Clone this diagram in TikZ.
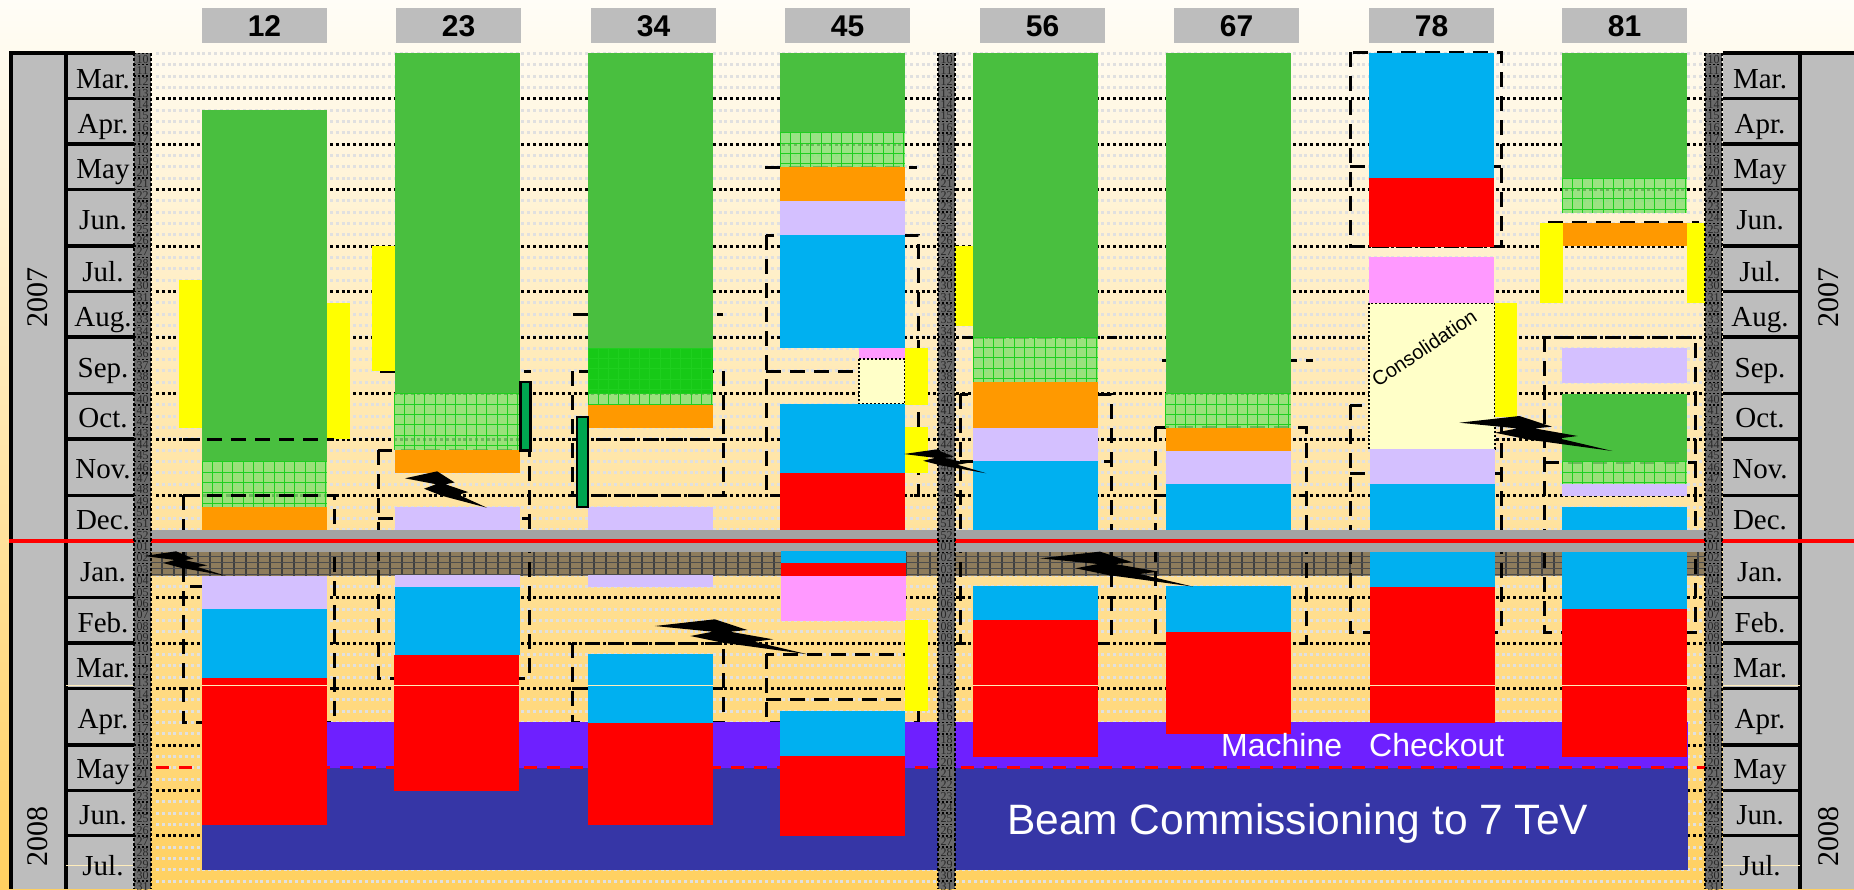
\documentclass[tikz,border=0pt]{standalone}
\usepackage{fontspec}
\setmainfont{Liberation Serif}
\newfontfamily\sansf{Liberation Sans}
\definecolor{barblue}{HTML}{00B0F0}
\definecolor{barred}{HTML}{FF0000}
\definecolor{bargreen}{HTML}{49BF3F}
\definecolor{barorange}{HTML}{FF9900}
\definecolor{barlav}{HTML}{D4C0FF}
\definecolor{barpink}{HTML}{FF99FF}
\definecolor{barcream}{HTML}{FFFFC8}
\definecolor{baryellow}{HTML}{FFFF00}
\definecolor{barpurple}{HTML}{6E20FF}
\definecolor{bardark}{HTML}{3636A6}
\definecolor{cellgray}{HTML}{BDBDBD}
\definecolor{bandgray}{HTML}{A3A3A3}
\definecolor{stripgray}{HTML}{6A6A6A}
\definecolor{meshgreen}{HTML}{84E070}
\definecolor{meshline}{HTML}{1FCF1F}
\definecolor{brightmesh}{HTML}{17C917}
\definecolor{hatchbrown}{HTML}{8E7C5C}
\definecolor{thinbar}{HTML}{00A650}
\definecolor{creamline}{HTML}{FFEDBB}
\tikzset{
  rl/.style={black,line width=3pt,dash pattern=on 15pt off 9pt,line join=miter},
  lightdots/.style={color=black!12,line width=3pt,dash pattern=on 3pt off 2.8pt},
  blackdots/.style={black,line width=3pt,dash pattern=on 3pt off 2.8pt},
  monthnm/.style={anchor=base,inner sep=0pt,font=\fontsize{29}{30}\selectfont},
  yearnm/.style={rotate=90,anchor=center,inner sep=0pt,font=\fontsize{30}{32}\selectfont},
  headbox/.style={fill=cellgray,draw=none,minimum height=35pt,inner sep=0pt,font=\sansf\bfseries\fontsize{30}{32}\selectfont},
  weeknm/.style={inner sep=0pt,text=black!85,font=\fontsize{12}{12}\selectfont},
  cell/.style={black,line width=3.2pt},
  creamrule/.style={creamline,line width=1pt}
}
\newcommand{\bxr}[5]{\fill[#5] (#1,#2) rectangle (#3,#4);}
\newcommand{\meshr}[4]{\begin{scope}\clip (#1,#2) rectangle (#3,#4);
  \fill[meshgreen,opacity=.82] (#1,#2) rectangle (#3,#4);
  \foreach \i in {0,...,12}{\draw[meshline,line width=.9pt] ({#1+\i*10.3},#2) -- ({#1+\i*10.3},#4);}
  \foreach \i in {0,...,6}{\draw[meshline,line width=.9pt] (#1,{#2+\i*10.4}) -- (#3,{#2+\i*10.4});}
  \end{scope}}
\newcommand{\boltr}[4]{\fill[black,shift={(#1,#2)},xscale=#3,yscale=#4]
  (0,0) -- (60,-6.7) -- (92.5,4) -- (75.2,5.7) -- (118.2,13.3) -- (99.6,15.7) -- (153,28.3) -- (68,16.7) -- (35.6,10) -- (58,5.7) -- cycle;}
\newcommand{\stripr}[1]{
  \fill[stripgray] (#1,53) rectangle ({#1+17},889);
  \foreach \n in {10,...,52}{\pgfmathsetmacro{\yy}{53.4+(\n-10)*11.34}
    \draw[black,line width=1.5pt,dash pattern=on 2pt off 2pt] (#1,\yy) -- ({#1+17},\yy);
    \node[weeknm] at ({#1+8.5},{\yy+5.7}) {\n};}
  \foreach \n/\m in {1/01,2/02,3/03,4/04,5/05,6/06,7/07,8/08,9/09,10/10,11/11,12/12,13/13,14/14,15/15,16/16,17/17,18/18,19/19,20/20,21/21,22/22,23/23,24/24,25/25,26/26,27/27,28/28,29/29,30/30,31/31}{\pgfmathsetmacro{\yy}{541+(\n-1)*11.34}
    \draw[black,line width=1.5pt,dash pattern=on 2pt off 2pt] (#1,\yy) -- ({#1+17},\yy);
    \node[weeknm] at ({#1+8.5},{\yy+5.7}) {\m};}
  \draw[black,line width=2.2pt,dash pattern=on 2.5pt off 2.5pt] (#1,53) -- (#1,889);
  \draw[black,line width=2.2pt,dash pattern=on 2.5pt off 2.5pt] ({#1+17},53) -- ({#1+17},889);
}
\begin{document}
\begin{tikzpicture}[x=1pt,y=-1pt]
\useasboundingbox (0,0) rectangle (1854,889);
\shade[top color=white!70!yellow!30!white,middle color=white!70!orange!30!white,bottom color=white,top color={rgb,255:red,255;green,253;blue,247},middle color={rgb,255:red,255;green,237;blue,208},bottom color={rgb,255:red,255;green,208;blue,96}] (0,0) rectangle (1854,889);
% week grid
\foreach \n in {0,...,74}{\pgfmathsetmacro{\yy}{53.4+\n*11.34}
  \draw[lightdots] (156,\yy) -- (1705,\yy);}
\foreach \yy in {98.7,144,189.3,246,291.3,337,393.7,439,495.3,597.7,643,688.3,745,790.3,835.7}{
  \draw[blackdots] (156,\yy) -- (1705,\yy);}
% hatched winter band
\fill[hatchbrown] (150,551.7) rectangle (1705,575.7);
\foreach \i in {0,...,129}{\draw[black!75,line width=1.1pt] ({150+\i*12},551.7) -- ({150+\i*12},575.7);}
\foreach \yy in {556,562,568,574}{\draw[black!70,line width=1pt] (150,\yy) -- (1705,\yy);}
% dashed work frames
\draw[rl] (183,495) rectangle (334,722);
\draw[rl] (190,586) -- (334,586);
\draw[rl] (378,450) rectangle (529,678);
\draw[rl] (378,518) -- (529,518);
\draw[rl] (380,371) -- (531,371);
\draw[rl] (572,371) rectangle (723,495);
\draw[rl] (572,439) -- (724,439);
\draw[rl] (573,314) -- (723,314);
\draw[rl] (572,643) rectangle (723,722);
\draw[rl] (572,688) -- (723,688);
\draw[rl] (765,167) -- (917,167);
\draw[rl] (766,235) rectangle (918,495);
\draw[rl] (766,371) -- (859,371);
\draw[rl] (766,654) rectangle (918,722);
\draw[rl] (766,699) -- (905,699);
\draw[rl] (960,394) rectangle (1111,643);
\draw[rl] (965,337) -- (1117,337);
\draw[rl] (960,461) -- (1112,461);
\draw[rl] (1155,427) rectangle (1306,643);
\draw[rl] (1155,495) -- (1306,495);
\draw[rl] (1162,360) -- (1313,360);
\draw[rl] (1350,52) rectangle (1501,246);
\draw[rl] (1350,166) -- (1501,166);
\draw[rl] (1350,405) rectangle (1501,632);
\draw[rl] (1350,473) -- (1503,473);
\draw[rl] (1548,222) -- (1699,222);
\draw[rl] (1544,337) rectangle (1695,632);
\draw[rl] (1544,462) -- (1697,462);
% machine checkout and beam commissioning
\fill[bandgray] (150,530) rectangle (1705,551.7);
\fill[barpurple] (202,722) rectangle (1688,767.7);
\fill[bardark] (202,767.7) rectangle (1688,870);
\draw[barred,line width=3pt,dash pattern=on 13pt off 10pt] (156,767.7) -- (1722,767.7);
% sector 12
\bxr{202}{110}{327}{461.7}{bargreen}
\meshr{202}{461.7}{327}{507}
\bxr{202}{507}{327}{530}{barorange}
\bxr{202}{575.7}{327}{609}{barlav}
\bxr{202}{609}{327}{677.7}{barblue}
\bxr{202}{677.7}{327}{825}{barred}
\bxr{179}{280}{202}{427.7}{baryellow}
\bxr{327}{303.3}{350}{439}{baryellow}
% sector 23
\bxr{395}{53}{520}{393.7}{bargreen}
\meshr{394}{393.7}{519}{450}
\bxr{395}{450}{520}{473}{barorange}
\bxr{395}{507}{520}{530}{barlav}
\bxr{395}{575}{520}{587}{barlav}
\bxr{395}{587}{520}{655}{barblue}
\bxr{394}{655}{519}{791}{barred}
\bxr{372}{246}{395}{371}{baryellow}
\draw[black,line width=2.5pt,fill=thinbar] (520.5,382) rectangle (530.5,450.5);
% sector 34
\bxr{588}{53}{713}{348}{bargreen}
\begin{scope}\clip (588,348) rectangle (713,393.7);
\fill[brightmesh] (588,348) rectangle (713,393.7);
\foreach \i in {0,...,12}{\draw[meshline,line width=.9pt] ({588+\i*10.3},348) -- ({588+\i*10.3},393.7);}
\foreach \i in {0,...,4}{\draw[meshline,line width=.9pt] (588,{348+\i*10.4}) -- (713,{348+\i*10.4});}
\end{scope}
\meshr{588}{393.7}{713}{405}
\bxr{588}{405}{713}{427.7}{barorange}
\bxr{588}{507}{713}{530}{barlav}
\bxr{588}{575}{713}{587}{barlav}
\bxr{588}{654}{713}{723}{barblue}
\bxr{588}{723}{713}{825}{barred}
\draw[black,line width=2.5pt,fill=thinbar] (577,417) rectangle (588,507);
% sector 45
\bxr{780}{53}{905}{132.7}{bargreen}
\meshr{780}{132.7}{905}{167}
\bxr{780}{167}{905}{201}{barorange}
\bxr{780}{201}{905}{235}{barlav}
\bxr{780}{235}{905}{348}{barblue}
\bxr{859}{348}{905}{359}{barpink}
\draw[barcream!100,fill=barcream,draw=black,line width=1.6pt,dash pattern=on 2pt off 2pt] (859,359) rectangle (905,404);
\bxr{780}{404}{905}{473}{barblue}
\bxr{780}{473}{905}{530}{barred}
\bxr{781}{551}{906}{563}{barblue}
\bxr{781}{563}{906}{575.7}{barred}
\bxr{781}{575.7}{906}{621}{barpink}
\bxr{780}{711}{905}{755.7}{barblue}
\bxr{780}{755.7}{905}{835.7}{barred}
\bxr{905}{348}{928}{405}{baryellow}
\bxr{905}{427}{928}{473}{baryellow}
\bxr{905}{620}{928}{711}{baryellow}
% sector 56
\bxr{955}{246}{977}{325.7}{baryellow}
\bxr{973}{53}{1098}{337}{bargreen}
\meshr{973}{337}{1098}{382}
\bxr{973}{382}{1098}{428}{barorange}
\bxr{973}{428}{1098}{461}{barlav}
\bxr{973}{461}{1098}{530}{barblue}
\bxr{973}{586}{1098}{620}{barblue}
\bxr{973}{620}{1098}{757}{barred}
% sector 78
\bxr{1369}{53}{1494}{178}{barblue}
\bxr{1369}{178}{1494}{247}{barred}
\bxr{1369}{257}{1494}{303.3}{barpink}
\draw[fill=barcream,draw=black,line width=1.6pt,dash pattern=on 2pt off 2pt] (1369,303.3) rectangle (1495,449.3);
\bxr{1370}{449.3}{1495}{484}{barlav}
\bxr{1370}{484}{1495}{530}{barblue}
\bxr{1370}{551.7}{1495}{587}{barblue}
\bxr{1370}{587}{1495}{723}{barred}
\bxr{1494.5}{303.3}{1517}{416.7}{baryellow}
% sector 81
\bxr{1562}{53}{1687}{178}{bargreen}
\meshr{1562}{178}{1687}{213}
\bxr{1563}{223}{1687}{246}{barorange}
\bxr{1540}{223}{1563}{303}{baryellow}
\bxr{1687}{223}{1705}{303}{baryellow}
\bxr{1562}{348}{1687}{383}{barlav}
\bxr{1562}{393.7}{1687}{461.7}{bargreen}
\meshr{1562}{461.7}{1687}{484}
\bxr{1562}{484}{1687}{495.7}{barlav}
\bxr{1562}{507}{1687}{530}{barblue}
\bxr{1562}{551.7}{1687}{609}{barblue}
\bxr{1562}{609}{1687}{757}{barred}
% thin cream rule across the bars
\foreach \a/\b in {66/150,202/327,394/519,588/713,973/1098,1370/1495,1562/1687,1723/1800}{\draw[creamrule] (\a,685.3) -- (\b,685.3);}
% sector 67 (drawn over the rule)
\bxr{1166}{53}{1291}{393.7}{bargreen}
\meshr{1165}{393.7}{1291}{428}
\bxr{1166}{428}{1291}{451}{barorange}
\bxr{1166}{451}{1291}{484}{barlav}
\bxr{1166}{484}{1291}{530}{barblue}
\bxr{1166}{586}{1291}{632}{barblue}
\bxr{1166}{632}{1291}{733.7}{barred}
% frame lines lying on top of the bars
\draw[rl] (183,439) -- (334,439);
\draw[rl] (183,495) -- (334,495);
% side panels
\fill[cellgray] (11,53) rectangle (135,889);
\fill[cellgray] (1723,53) rectangle (1854,889);
\draw[cell] (11,889) -- (11,53) -- (135,53);
\draw[cell] (66,53) -- (66,889);
\draw[cell] (1723,53) -- (1854,53);
\draw[cell] (1800,53) -- (1800,889);
\foreach \yy in {98.7,144,189.3,246,291.3,337,393.7,439,495.3,597.7,643,688.3,745,790.3,835.7}{
  \draw[cell] (66,\yy) -- (135,\yy);
  \draw[cell] (1723,\yy) -- (1800,\yy);}
\draw[barred,line width=3.5pt] (9,541) -- (1854,541);
\draw[creamrule] (66,865) -- (135,865);
\draw[creamrule] (1723,865) -- (1800,865);
\draw[creamrule] (66,685.3) -- (135,685.3);
\draw[creamrule] (1723,685.3) -- (1800,685.3);
% week strips
\stripr{134}
\stripr{938}
\stripr{1705}
% month names
\foreach \nm/\m/\yy in {ma/Mar./88,ap/Apr./133,my/May/178,jn/Jun./229,jl/Jul./281,au/Aug./326,se/Sep./377,oc/Oct./427,no/Nov./478,de/Dec./529,ja/Jan./581,fe/Feb./632,mb/Mar./677,aq/Apr./728,mz/May/778,jo/Jun./824,jm/Jul./875}{
  \node[monthnm] (l\nm) at (103,\yy) {\m};
  \node[monthnm] (r\nm) at (1760,\yy) {\m};}
\node[yearnm] (y1) at (38,297) {2007};
\node[yearnm] (y2) at (38,836) {2008};
\node[yearnm] (y3) at (1829,297) {2007};
\node[yearnm] (y4) at (1829,836) {2008};
% sector headers
\foreach \nm/\a/\b in {12/202/327,23/396/521,34/591/716,45/785/910,56/980/1105,67/1174/1299,78/1369/1494,81/1562/1687}{
  \fill[cellgray] (\a,8) rectangle (\b,43);
  \node[inner sep=0pt,anchor=base,font=\sansf\bfseries\fontsize{30}{32}\selectfont] (h\nm) at ({(\a+\b)/2},36) {\nm};}
% bolts
\boltr{144}{556}{.536}{.7}
\boltr{405}{478.3}{.536}{1.04}
\boltr{654.8}{626}{1}{1}
\boltr{904}{454}{.536}{.68}
\boltr{1040}{558.3}{1}{1}
\boltr{1459.4}{422.7}{1}{1}
% texts
\node[rotate=34,inner sep=0pt,font=\sansf\fontsize{20}{22}\selectfont] (cons) at (1424,348) {Consolidation};
\node[anchor=base west,inner sep=0pt,text=white,font=\sansf\fontsize{32}{34}\selectfont] (mach) at (1221,756) {Machine};
\node[anchor=base west,inner sep=0pt,text=white,font=\sansf\fontsize{32}{34}\selectfont] (chk) at (1369,756) {Checkout};
\node[anchor=base west,inner sep=0pt,text=white,font=\sansf\fontsize{42.5}{44}\selectfont] (beam) at (1007,834) {Beam Commissioning to 7 TeV};
\end{tikzpicture}
\end{document}
